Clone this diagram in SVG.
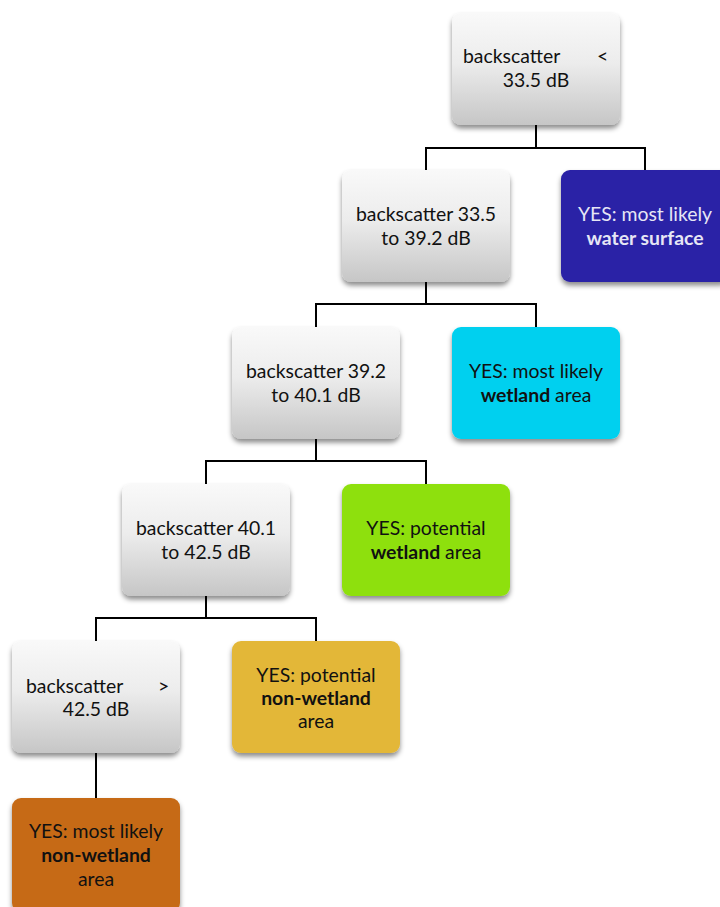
<svg xmlns="http://www.w3.org/2000/svg" width="720" height="907" viewBox="0 0 720 907">
  <defs>
    <linearGradient id="grayFill" x1="0" y1="0" x2="0" y2="1">
      <stop offset="0" stop-color="#f9f9f9"/>
      <stop offset="0.45" stop-color="#ececec"/>
      <stop offset="1" stop-color="#c6c6c6"/>
    </linearGradient>
    <filter id="shadow" x="-10%" y="-10%" width="120%" height="130%">
      <feDropShadow dx="0" dy="3.5" stdDeviation="2.5" flood-color="#000" flood-opacity="0.45"/>
    </filter>
    <style>
      .box { filter: url(#shadow); }
      .q { fill: url(#grayFill); }
      .t { font-family: Lato, "Liberation Sans", sans-serif; font-size: 19.4px; fill: #111; }
      .c { text-anchor: middle; }
      .b { font-weight: bold; }
      .light { fill: #e6e6f5; }
      .wire { fill: none; stroke: #000; stroke-width: 2; }
    </style>
  </defs>

  <g id="connectors">
    <polyline class="wire" points="426,170 426,148 645,148 645,170"/>
    <line class="wire" x1="536" y1="125" x2="536" y2="148"/>
    <polyline class="wire" points="316,327 316,304 536,304 536,327"/>
    <line class="wire" x1="426" y1="282" x2="426" y2="304"/>
    <polyline class="wire" points="206,484 206,461 426,461 426,484"/>
    <line class="wire" x1="316" y1="439" x2="316" y2="461"/>
    <polyline class="wire" points="96,641 96,618 316,618 316,641"/>
    <line class="wire" x1="206" y1="596" x2="206" y2="618"/>
    <line class="wire" x1="96" y1="753" x2="96" y2="798"/>
  </g>

  <g id="q1">
    <rect class="box q" x="452" y="13" width="168" height="112" rx="9"/>
    <text class="t" y="63"><tspan x="463">backscatter</tspan><tspan x="597">&lt;</tspan></text>
    <text class="t c" x="536" y="87">33.5 dB</text>
  </g>

  <g id="r1">
    <rect class="box" x="561" y="170" width="168" height="112" rx="9" fill="#2c20a6"/>
    <text class="t c light" x="645" y="221">YES: most likely</text>
    <text class="t c light b" x="645" y="245">water surface</text>
  </g>

  <g id="q2">
    <rect class="box q" x="342" y="170" width="168" height="112" rx="9"/>
    <text class="t c" x="426" y="221">backscatter 33.5</text>
    <text class="t c" x="426" y="245">to 39.2 dB</text>
  </g>

  <g id="r2">
    <rect class="box" x="452" y="327" width="168" height="112" rx="9" fill="#04d0ef"/>
    <text class="t c" x="536" y="378">YES: most likely</text>
    <text class="t c" x="536" y="402"><tspan class="b">wetland</tspan> area</text>
  </g>

  <g id="q3">
    <rect class="box q" x="232" y="327" width="168" height="112" rx="9"/>
    <text class="t c" x="316" y="378">backscatter 39.2</text>
    <text class="t c" x="316" y="402">to 40.1 dB</text>
  </g>

  <g id="r3">
    <rect class="box" x="342" y="484" width="168" height="112" rx="9" fill="#8ee00c"/>
    <text class="t c" x="426" y="535">YES: potential</text>
    <text class="t c" x="426" y="559"><tspan class="b">wetland</tspan> area</text>
  </g>

  <g id="q4">
    <rect class="box q" x="122" y="484" width="168" height="112" rx="9"/>
    <text class="t c" x="206" y="535">backscatter 40.1</text>
    <text class="t c" x="206" y="559">to 42.5 dB</text>
  </g>

  <g id="r4">
    <rect class="box" x="232" y="641" width="168" height="112" rx="9" fill="#e3b737"/>
    <text class="t c" x="316" y="682">YES: potential</text>
    <text class="t c b" x="316" y="705">non-wetland</text>
    <text class="t c" x="316" y="728">area</text>
  </g>

  <g id="q5">
    <rect class="box q" x="12" y="641" width="168" height="112" rx="9"/>
    <text class="t" y="693"><tspan x="26">backscatter</tspan><tspan x="158">&gt;</tspan></text>
    <text class="t c" x="96" y="716">42.5 dB</text>
  </g>

  <g id="r5">
    <rect class="box" x="12" y="798" width="168" height="114" rx="9" fill="#c66b18"/>
    <text class="t c" x="96" y="838">YES: most likely</text>
    <text class="t c b" x="96" y="862">non-wetland</text>
    <text class="t c" x="96" y="886">area</text>
  </g>
</svg>
